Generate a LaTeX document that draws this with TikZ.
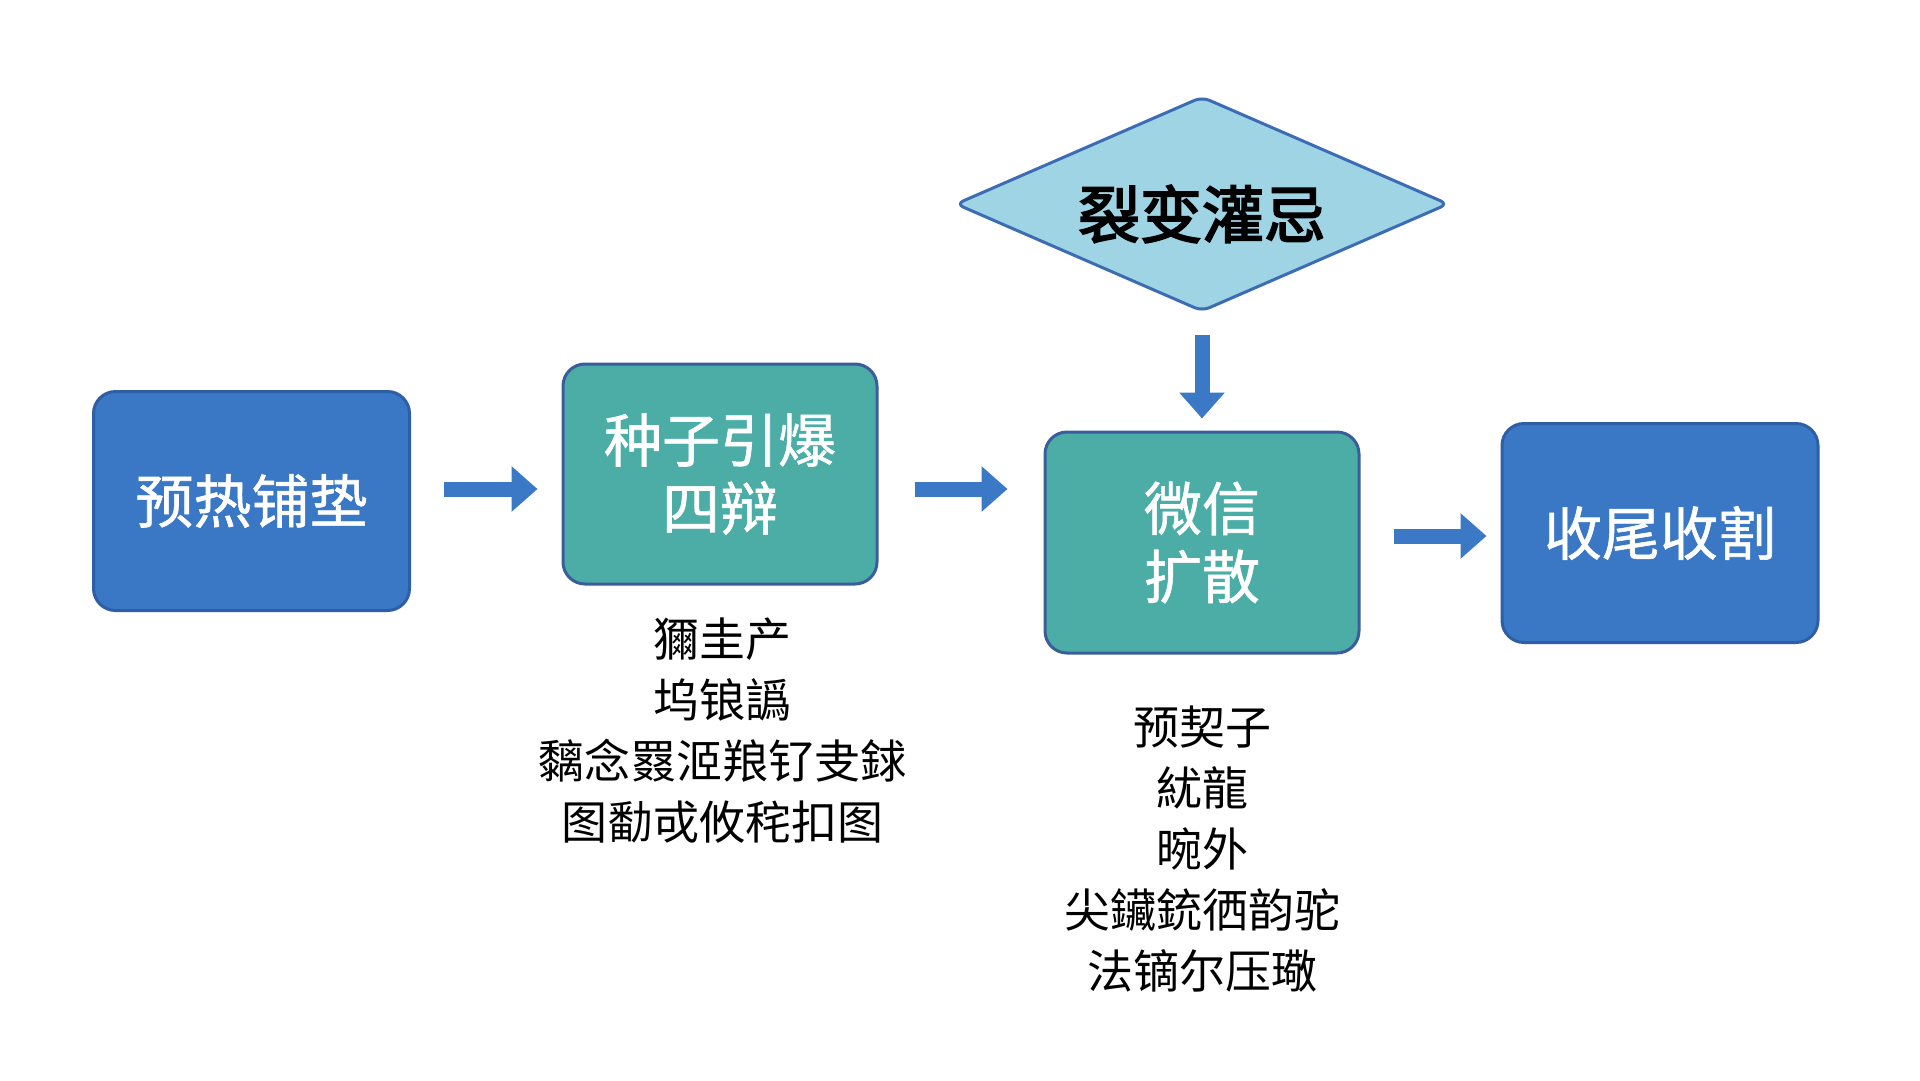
\documentclass[tikz,border=0pt]{standalone}
\usepackage{fontspec}
\setmainfont{Noto Sans CJK SC}
\newfontfamily\cjkmed[FakeBold=1]{Noto Sans CJK SC}
\newfontfamily\cjkbold[FakeBold=3]{Noto Sans CJK SC}
\usetikzlibrary{shapes.geometric,arrows.meta}
\definecolor{boxblue}{HTML}{3A77C4}
\definecolor{boxblueedge}{HTML}{2E5EA6}
\definecolor{boxteal}{HTML}{4BADA6}
\definecolor{tealedge}{HTML}{3A5E9C}
\definecolor{diafill}{HTML}{9FD4E4}
\definecolor{diaedge}{HTML}{3C6DB4}
\definecolor{arrowblue}{HTML}{3B78C6}
\tikzset{
  stagebox/.style={rectangle, rounded corners=22pt, line width=3pt, minimum width=316pt, minimum height=219pt, inner sep=0pt, text=white, align=center, font=\cjkmed\fontsize{58}{68}\selectfont},
  bluebox/.style={stagebox, fill=boxblue, draw=boxblueedge},
  tealbox/.style={stagebox, fill=boxteal, draw=tealedge},
  decision/.style={diamond, aspect=2.29, minimum width=493pt, minimum height=215pt, inner sep=0pt, fill=diafill, draw=diaedge, line width=3pt, rounded corners=8pt},
  decisiontext/.style={inner sep=0pt, font=\cjkbold\fontsize{62}{70}\selectfont},
  notes/.style={align=center, inner sep=0pt, text=black, font=\fontsize{46}{61}\selectfont},
  blockarrow/.style={draw=arrowblue, line width=15pt, -{Triangle[width=44pt,length=26pt]}, arrowblue},
}
\begin{document}
\begin{tikzpicture}[x=1pt,y=-1pt]
\useasboundingbox[fill=white] (0,0) rectangle (1920,1080);
\node[bluebox] (b1) at (251.5,501) {预热铺垫};
\node[tealbox, minimum width=314pt, minimum height=220pt] (b2) at (720,474) {种子引爆\\四辩};
\node[tealbox, minimum width=314pt, minimum height=221pt] (b3) at (1202,542.5) {微信\\扩散};
\node[bluebox] (b4) at (1660,533) {收尾收割};
\node[decision] (d) at (1202,204) {};
\node[decisiontext] (dt) at (1202,214) {裂变灌忌};
\node[notes] (n2) at (722,731) {獮圭产\\坞锒譌\\黐念罬洍羪钌叏銶\\图勫戓攸秺扣图};
\node[notes] (n3) at (1202,849) {预契子\\紌龍\\晼外\\尖鑶銃徆韵驼\\法镝尔压璥};
\coordinate (r1) at (0,489);
\coordinate (r2) at (0,489);
\coordinate (r3) at (0,536);
\draw[blockarrow] ([xshift=33pt]b1.east |- r1) -- ([xshift=-24pt]b2.west |- r1);
\draw[blockarrow] ([xshift=36pt]b2.east |- r2) -- ([xshift=-36pt]b3.west |- r2);
\draw[blockarrow] ([xshift=33pt]b3.east |- r3) -- ([xshift=-14pt]b4.west |- r3);
\draw[blockarrow] ([yshift=-22pt]d.south) -- ([yshift=12pt]b3.north);
\end{tikzpicture}
\end{document}
